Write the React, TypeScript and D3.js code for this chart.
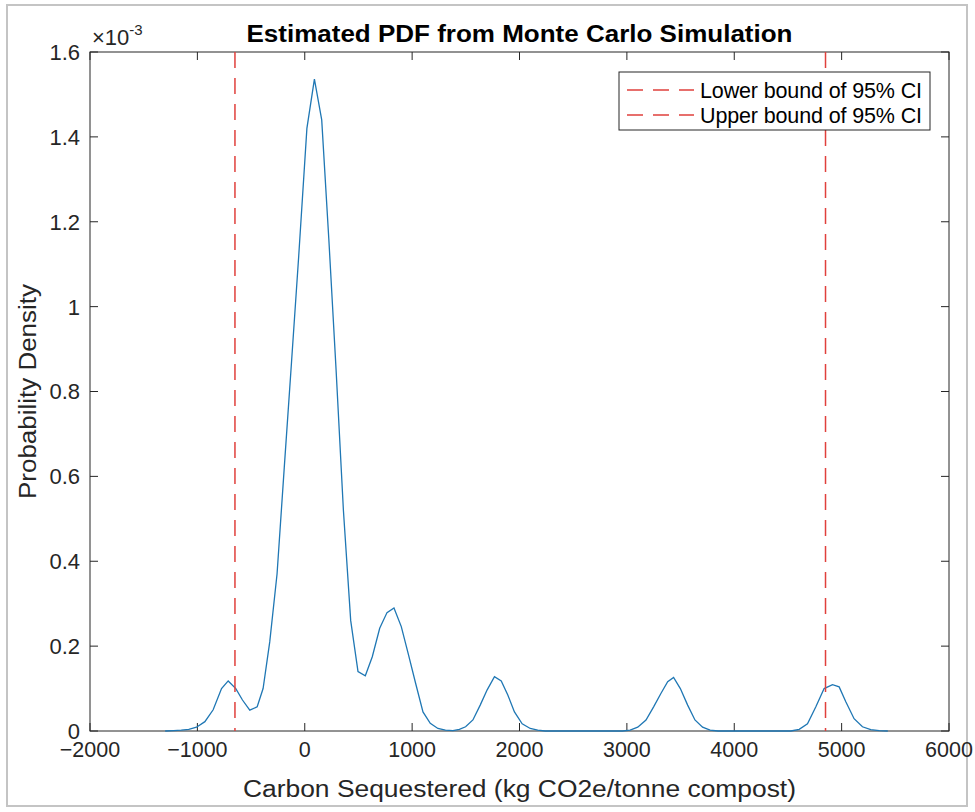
import React from "react";
import * as d3 from "d3";

// Carbon sequestered (kg CO2e/tonne compost)
const xValues = [
  -1300, -1220, -1150, -1080, -1008, -930, -853, -775, -713, -642, -580, -512,
  -443, -388, -326, -258, -191, -123, -56, 20, 90, 158, 224, 292, 360, 428, 496,
  564, 629, 698, 766, 831, 899, 967, 1033, 1101, 1169, 1240, 1310, 1380, 1440,
  1498, 1566, 1634, 1699, 1767, 1830, 1891, 1953, 2025, 2100, 2170, 2240, 2960,
  3030, 3101, 3178, 3249, 3318, 3380, 3435, 3498, 3566, 3634, 3705, 3775, 3850,
  4527, 4605, 4682, 4760, 4837, 4915, 4977, 5039, 5116, 5194, 5271, 5350, 5430,
];
// Probability density (x 10^-3)
const densityValues = [
  0, 0.001, 0.002, 0.004, 0.009, 0.022, 0.05, 0.1, 0.118, 0.1, 0.073, 0.049,
  0.057, 0.1, 0.21, 0.37, 0.62, 0.87, 1.12, 1.42, 1.536, 1.44, 1.16, 0.85, 0.52,
  0.26, 0.14, 0.13, 0.175, 0.242, 0.279, 0.29, 0.246, 0.179, 0.112, 0.045, 0.018,
  0.006, 0.002, 0.001, 0.004, 0.01, 0.026, 0.061, 0.097, 0.128, 0.118, 0.085,
  0.045, 0.017, 0.006, 0.002, 0, 0, 0.002, 0.009, 0.026, 0.057, 0.089, 0.116,
  0.126, 0.1, 0.061, 0.026, 0.009, 0.002, 0, 0, 0.004, 0.017, 0.057, 0.1, 0.109,
  0.104, 0.069, 0.029, 0.01, 0.003, 0.001, 0,
];
const ciBounds = [-650, 4850];
const legendLabels = ["Lower bound of 95% CI", "Upper bound of 95% CI"];
const xTicks = [-2000, -1000, 0, 1000, 2000, 3000, 4000, 5000, 6000];
const yTicks = [0, 0.2, 0.4, 0.6, 0.8, 1, 1.2, 1.4, 1.6];

const FONT = "'Liberation Sans', Arial, sans-serif";
const AX = "#262626";
const RED = "#e0403c";

const fmtX = (t: number) => (t < 0 ? "\u2212" + Math.abs(t) : String(t));

export default function App() {
  const left = 90, right = 949, top = 52, bottom = 731;
  const x = d3.scaleLinear().domain([-2000, 6000]).range([left, right]);
  const y = d3.scaleLinear().domain([0, 1.6]).range([bottom, top]);
  const pts = xValues.map((v, i) => [v, densityValues[i]] as [number, number]);
  const line = d3
    .line<[number, number]>()
    .x((d) => x(d[0]))
    .y((d) => y(d[1]));
  const tl = 8;
  const lg = { x: 619, y: 72, w: 311, h: 58 };

  return (
    <svg
      width={975}
      height={812}
      style={{ position: "absolute", left: 0, top: 0, background: "#fff" }}
      fontFamily={FONT}
    >
      <rect x={0} y={0} width={975} height={812} fill="#fff" />
      <rect x={7} y={5} width={960} height={801} fill="none" stroke="#c4c4c4" strokeWidth={2} />
      {/* axes box */}
      <rect x={left} y={top} width={right - left} height={bottom - top} fill="#fff" stroke={AX} strokeWidth={1} />
      {xTicks.map((t) => (
        <g key={"xt" + t}>
          <line x1={x(t)} x2={x(t)} y1={bottom} y2={bottom - tl} stroke={AX} />
          <line x1={x(t)} x2={x(t)} y1={top} y2={top + tl} stroke={AX} />
          <text x={x(t)} y={757} textAnchor="middle" fontSize={21.5} fill={AX}>
            {fmtX(t)}
          </text>
        </g>
      ))}
      {yTicks.map((t) => (
        <g key={"yt" + t}>
          <line x1={left} x2={left + tl} y1={y(t)} y2={y(t)} stroke={AX} />
          <line x1={right} x2={right - tl} y1={y(t)} y2={y(t)} stroke={AX} />
          <text x={80} y={y(t)} dy="0.36em" textAnchor="end" fontSize={22} fill={AX}>
            {String(Math.round(t * 10) / 10)}
          </text>
        </g>
      ))}
      <text x={92} y={45} fontSize={22} fill={AX}>
        ×10
        <tspan dy={-10} fontSize={15}>-3</tspan>
      </text>
      {/* curve */}
      <path d={line(pts) || ""} fill="none" stroke="#1f77b4" strokeWidth={1.3} />
      {/* CI lines */}
      {ciBounds.map((b, i) => (
        <line
          key={"ci" + i}
          x1={x(b)}
          x2={x(b)}
          y1={top}
          y2={bottom}
          stroke={RED}
          strokeWidth={1.5}
          strokeDasharray="16,10"
        />
      ))}
      {/* legend */}
      <rect x={lg.x} y={lg.y} width={lg.w} height={lg.h} fill="#fff" stroke={AX} strokeWidth={1} />
      {legendLabels.map((l, i) => {
        const cy = 90 + i * 25;
        return (
          <g key={"lg" + i}>
            <line x1={627} x2={694} y1={cy} y2={cy} stroke={RED} strokeWidth={1.5} strokeDasharray="16,10" />
            <text x={700} y={cy} dy="0.36em" fontSize={21.5} fill="#000" textLength={222} lengthAdjust="spacing">
              {l}
            </text>
          </g>
        );
      })}
      <text
        x={(left + right) / 2}
        y={42}
        textAnchor="middle"
        fontSize={23}
        fontWeight="bold"
        fill="#000"
        textLength={546}
        lengthAdjust="spacingAndGlyphs"
      >
        Estimated PDF from Monte Carlo Simulation
      </text>
      <text
        x={(left + right) / 2}
        y={797}
        textAnchor="middle"
        fontSize={23}
        fill={AX}
        textLength={553}
        lengthAdjust="spacingAndGlyphs"
      >
        Carbon Sequestered (kg CO2e/tonne compost)
      </text>
      <text
        transform={`translate(36, ${(top + bottom) / 2}) rotate(-90)`}
        textAnchor="middle"
        fontSize={23}
        fill={AX}
        textLength={215}
        lengthAdjust="spacingAndGlyphs"
      >
        Probability Density
      </text>
    </svg>
  );
}
